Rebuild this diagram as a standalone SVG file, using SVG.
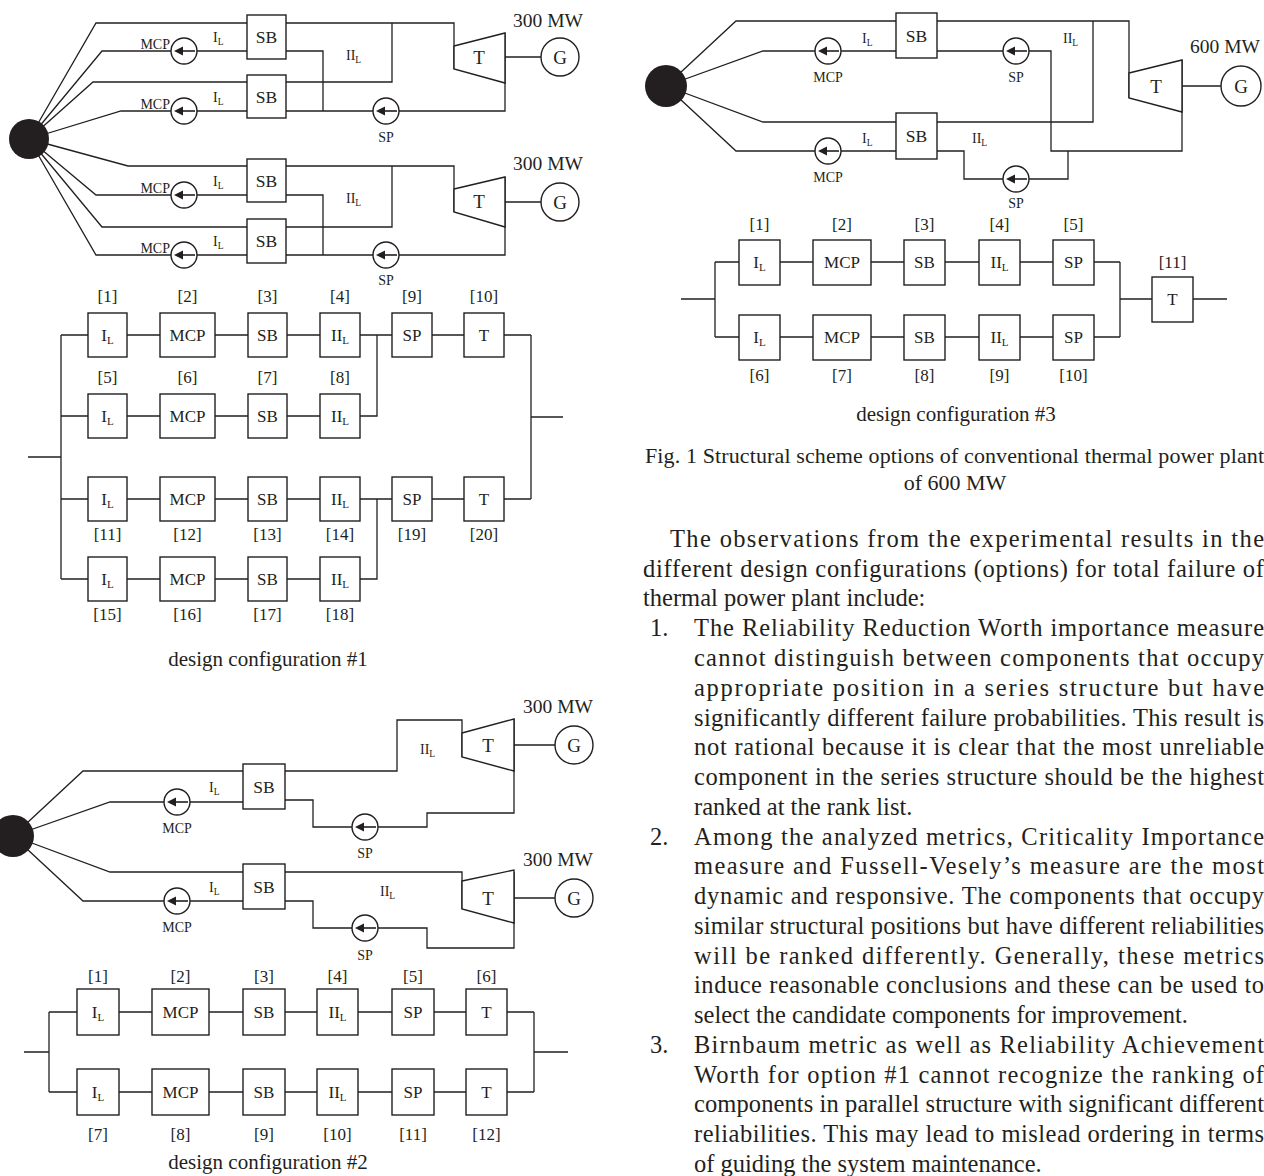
<svg xmlns="http://www.w3.org/2000/svg" width="1264" height="1176" viewBox="0 0 1264 1176">
<defs>
<style>
.ln{fill:none;stroke:#231f20;stroke-width:1.3}
.bx{fill:#fff;stroke:#231f20;stroke-width:1.4}
.src{fill:#231f20}
text{font-family:"Liberation Serif","Times New Roman",serif;fill:#231f20}
.sb{font-size:17.5px;text-anchor:middle}
.tg{font-size:19px;text-anchor:middle}
.mw{font-size:19.5px}
.sm{font-size:14px}
.smc{font-size:14px;text-anchor:middle}
.sme{font-size:14px;text-anchor:end}
.bt{font-size:17px;text-anchor:middle}
.dc{font-size:21px;text-anchor:middle}
.cap{font-size:22px}
.body{font-size:24.5px}
</style>
<g id="pump">
<circle r="13" fill="#fff" stroke="#231f20" stroke-width="1.4"/>
<path d="M-10,0 L-1,-4.5 L-1,4.5 Z" fill="#231f20"/>
<line x1="-2" y1="0" x2="11" y2="0" stroke="#231f20" stroke-width="1.6"/>
</g>
</defs>
<rect width="1264" height="1176" fill="#fff"/>

<g id="connectors">
<path class="ln" d="M29,139 L96,23 H247 M29,139 L102,51 H247 M29,139 L93,82 H247 M29,139 L121,111 H247 M29,139 L128,166 H247 M29,139 L96,195 H247 M29,139 L102,227 H247 M29,139 L96,255 H247"/>
<path class="ln" d="M286,23 H454 V69 M286,82 H392 V23 M286,51 H323 V111 M286,111 H505 V33 M505,57 H541"/>
<path class="ln" d="M286,166 H454 V212 M286,227 H392 V166 M286,195 H323 V255 M286,255 H505 V177 M505,202 H541"/>
<path class="ln" d="M28,457 H61 M61,335 V579 M531,335 V499 M531,417 H563"/>
<path class="ln" d="M61,335 H88 M127,335 H160 M215,335 H248 M287,335 H320 M360,335 H392 M432,335 H464 M504,335 H531"/>
<path class="ln" d="M61,416 H88 M127,416 H160 M215,416 H248 M287,416 H320 M360,416 H377 V335"/>
<path class="ln" d="M61,499 H88 M127,499 H160 M215,499 H248 M287,499 H320 M360,499 H392 M432,499 H464 M504,499 H531"/>
<path class="ln" d="M61,579 H88 M127,579 H160 M215,579 H248 M287,579 H320 M360,579 H377 V499"/>
<path class="ln" d="M13,836 L83,771 H243 M13,836 L110,802 H243 M13,836 L110,872 H243 M13,836 L83,901 H243"/>
<path class="ln" d="M285,771 H397 V720 H462 V757 M514,719 V813 H427 V827 H313 V800 H285 M514,745 H555"/>
<path class="ln" d="M285,872 H462 V909 M514,872 V948 H427 V928 H313 V901 H285 M514,898 H555"/>
<path class="ln" d="M24,1052 H49 M49,1012 V1092 M534,1012 V1092 M534,1052 H568"/>
<path class="ln" d="M49,1012 H77 M119,1012 H152 M209,1012 H243 M285,1012 H317 M358,1012 H392 M434,1012 H466 M507,1012 H534"/>
<path class="ln" d="M49,1092 H77 M119,1092 H152 M209,1092 H243 M285,1092 H317 M358,1092 H392 M434,1092 H466 M507,1092 H534"/>
<path class="ln" d="M666,86 L736,21 H896 M666,86 L763,51 H896 M666,86 L763,122 H896 M666,86 L736,151 H896"/>
<path class="ln" d="M937,21 H1129 V98 M937,122 H1093 V21 M937,51 H1051 V151 H1182 V60 M937,151 H964 V179 H1068 V151 M1182,86 H1221"/>
<path class="ln" d="M681,299 H715 M715,262 V337 M1120,262 V337 M1120,299 H1152 M1193,299 H1227"/>
<path class="ln" d="M715,262 H739 M780,262 H813 M871,262 H904 M945,262 H979 M1020,262 H1053 M1094,262 H1120"/>
<path class="ln" d="M715,337 H739 M780,337 H813 M871,337 H904 M945,337 H979 M1020,337 H1053 M1094,337 H1120"/>
</g>

<g id="c1-header"><circle class="src" cx="29" cy="139" r="20"/></g>
<g id="c1-mcp1"><use href="#pump" x="184" y="51"/><text class="sme" x="170" y="49">MCP</text></g>
<g id="c1-mcp2"><use href="#pump" x="184" y="111"/><text class="sme" x="170" y="109">MCP</text></g>
<g id="c1-mcp3"><use href="#pump" x="184" y="195"/><text class="sme" x="170" y="193">MCP</text></g>
<g id="c1-mcp4"><use href="#pump" x="184" y="255"/><text class="sme" x="170" y="253">MCP</text></g>
<g id="c1-il1"><text class="sm" x="213" y="42">I<tspan font-size="9.5" dy="3">L</tspan></text></g>
<g id="c1-il2"><text class="sm" x="213" y="102">I<tspan font-size="9.5" dy="3">L</tspan></text></g>
<g id="c1-il3"><text class="sm" x="213" y="186">I<tspan font-size="9.5" dy="3">L</tspan></text></g>
<g id="c1-il4"><text class="sm" x="213" y="246">I<tspan font-size="9.5" dy="3">L</tspan></text></g>
<g id="c1-sb1"><rect class="bx" x="247" y="15" width="39" height="44"/><text class="sb" x="266.5" y="43">SB</text></g>
<g id="c1-sb2"><rect class="bx" x="247" y="75" width="39" height="43"/><text class="sb" x="266.5" y="103">SB</text></g>
<g id="c1-sb3"><rect class="bx" x="247" y="159" width="39" height="43"/><text class="sb" x="266.5" y="187">SB</text></g>
<g id="c1-sb4"><rect class="bx" x="247" y="219" width="39" height="44"/><text class="sb" x="266.5" y="247">SB</text></g>
<g id="c1-iil1"><text class="sm" x="346" y="60">II<tspan font-size="9.5" dy="3">L</tspan></text></g>
<g id="c1-iil2"><text class="sm" x="346" y="203">II<tspan font-size="9.5" dy="3">L</tspan></text></g>
<g id="c1-sp1"><use href="#pump" x="386" y="111"/><text class="smc" x="386" y="142">SP</text></g>
<g id="c1-sp2"><use href="#pump" x="386" y="255"/><text class="smc" x="386" y="285">SP</text></g>
<g id="c1-t1"><polygon class="bx" points="454,46 505,33 505,83 454,69"/><text class="tg" x="479" y="64">T</text></g>
<g id="c1-t2"><polygon class="bx" points="454,189 505,177 505,227 454,212"/><text class="tg" x="479" y="208">T</text></g>
<g id="c1-g1"><circle class="bx" cx="560" cy="57" r="19"/><text class="tg" x="560" y="64">G</text><text class="mw" x="513" y="27">300 MW</text></g>
<g id="c1-g2"><circle class="bx" cx="560" cy="202" r="19"/><text class="tg" x="560" y="209">G</text><text class="mw" x="513" y="170">300 MW</text></g>

<g id="b1-1"><rect class="bx" x="88" y="313" width="39" height="44"/><text class="bt" x="107.5" y="341">I<tspan font-size="11" dy="3">L</tspan></text><text class="bt" x="107.5" y="302">[1]</text></g>
<g id="b1-2"><rect class="bx" x="160" y="313" width="55" height="44"/><text class="bt" x="187.5" y="341">MCP</text><text class="bt" x="187.5" y="302">[2]</text></g>
<g id="b1-3"><rect class="bx" x="248" y="313" width="39" height="44"/><text class="bt" x="267.5" y="341">SB</text><text class="bt" x="267.5" y="302">[3]</text></g>
<g id="b1-4"><rect class="bx" x="320" y="313" width="40" height="44"/><text class="bt" x="340" y="341">II<tspan font-size="11" dy="3">L</tspan></text><text class="bt" x="340" y="302">[4]</text></g>
<g id="b1-9"><rect class="bx" x="392" y="313" width="40" height="44"/><text class="bt" x="412" y="341">SP</text><text class="bt" x="412" y="302">[9]</text></g>
<g id="b1-10"><rect class="bx" x="464" y="313" width="40" height="44"/><text class="bt" x="484" y="341">T</text><text class="bt" x="484" y="302">[10]</text></g>
<g id="b1-5"><rect class="bx" x="88" y="394" width="39" height="44"/><text class="bt" x="107.5" y="422">I<tspan font-size="11" dy="3">L</tspan></text><text class="bt" x="107.5" y="383">[5]</text></g>
<g id="b1-6"><rect class="bx" x="160" y="394" width="55" height="44"/><text class="bt" x="187.5" y="422">MCP</text><text class="bt" x="187.5" y="383">[6]</text></g>
<g id="b1-7"><rect class="bx" x="248" y="394" width="39" height="44"/><text class="bt" x="267.5" y="422">SB</text><text class="bt" x="267.5" y="383">[7]</text></g>
<g id="b1-8"><rect class="bx" x="320" y="394" width="40" height="44"/><text class="bt" x="340" y="422">II<tspan font-size="11" dy="3">L</tspan></text><text class="bt" x="340" y="383">[8]</text></g>
<g id="b1-11"><rect class="bx" x="88" y="477" width="39" height="44"/><text class="bt" x="107.5" y="505">I<tspan font-size="11" dy="3">L</tspan></text><text class="bt" x="107.5" y="540">[11]</text></g>
<g id="b1-12"><rect class="bx" x="160" y="477" width="55" height="44"/><text class="bt" x="187.5" y="505">MCP</text><text class="bt" x="187.5" y="540">[12]</text></g>
<g id="b1-13"><rect class="bx" x="248" y="477" width="39" height="44"/><text class="bt" x="267.5" y="505">SB</text><text class="bt" x="267.5" y="540">[13]</text></g>
<g id="b1-14"><rect class="bx" x="320" y="477" width="40" height="44"/><text class="bt" x="340" y="505">II<tspan font-size="11" dy="3">L</tspan></text><text class="bt" x="340" y="540">[14]</text></g>
<g id="b1-19"><rect class="bx" x="392" y="477" width="40" height="44"/><text class="bt" x="412" y="505">SP</text><text class="bt" x="412" y="540">[19]</text></g>
<g id="b1-20"><rect class="bx" x="464" y="477" width="40" height="44"/><text class="bt" x="484" y="505">T</text><text class="bt" x="484" y="540">[20]</text></g>
<g id="b1-15"><rect class="bx" x="88" y="557" width="39" height="44"/><text class="bt" x="107.5" y="585">I<tspan font-size="11" dy="3">L</tspan></text><text class="bt" x="107.5" y="620">[15]</text></g>
<g id="b1-16"><rect class="bx" x="160" y="557" width="55" height="44"/><text class="bt" x="187.5" y="585">MCP</text><text class="bt" x="187.5" y="620">[16]</text></g>
<g id="b1-17"><rect class="bx" x="248" y="557" width="39" height="44"/><text class="bt" x="267.5" y="585">SB</text><text class="bt" x="267.5" y="620">[17]</text></g>
<g id="b1-18"><rect class="bx" x="320" y="557" width="40" height="44"/><text class="bt" x="340" y="585">II<tspan font-size="11" dy="3">L</tspan></text><text class="bt" x="340" y="620">[18]</text></g>
<text class="dc" x="268" y="666">design configuration #1</text>

<g id="c2-header"><circle class="src" cx="13" cy="836" r="21"/></g>
<g id="c2-mcp1"><use href="#pump" x="177" y="802"/><text class="smc" x="177" y="833">MCP</text></g>
<g id="c2-mcp2"><use href="#pump" x="177" y="901"/><text class="smc" x="177" y="932">MCP</text></g>
<g id="c2-il1"><text class="sm" x="209" y="792">I<tspan font-size="9.5" dy="3">L</tspan></text></g>
<g id="c2-il2"><text class="sm" x="209" y="892">I<tspan font-size="9.5" dy="3">L</tspan></text></g>
<g id="c2-sb1"><rect class="bx" x="243" y="764" width="42" height="45"/><text class="sb" x="264" y="793">SB</text></g>
<g id="c2-sb2"><rect class="bx" x="243" y="864" width="42" height="45"/><text class="sb" x="264" y="893">SB</text></g>
<g id="c2-iil1"><text class="sm" x="420" y="754">II<tspan font-size="9.5" dy="3">L</tspan></text></g>
<g id="c2-iil2"><text class="sm" x="380" y="896">II<tspan font-size="9.5" dy="3">L</tspan></text></g>
<g id="c2-sp1"><use href="#pump" x="365" y="827"/><text class="smc" x="365" y="858">SP</text></g>
<g id="c2-sp2"><use href="#pump" x="365" y="928"/><text class="smc" x="365" y="960">SP</text></g>
<g id="c2-t1"><polygon class="bx" points="462,733 514,719 514,771 462,757"/><text class="tg" x="488" y="752">T</text></g>
<g id="c2-t2"><polygon class="bx" points="462,881 514,870 514,923 462,909"/><text class="tg" x="488" y="905">T</text></g>
<g id="c2-g1"><circle class="bx" cx="574" cy="745" r="19"/><text class="tg" x="574" y="752">G</text><text class="mw" x="523" y="713">300 MW</text></g>
<g id="c2-g2"><circle class="bx" cx="574" cy="898" r="19"/><text class="tg" x="574" y="905">G</text><text class="mw" x="523" y="866">300 MW</text></g>

<g id="b2-1"><rect class="bx" x="77" y="989" width="42" height="46"/><text class="bt" x="98" y="1018">I<tspan font-size="11" dy="3">L</tspan></text><text class="bt" x="98" y="982">[1]</text></g>
<g id="b2-2"><rect class="bx" x="152" y="989" width="57" height="46"/><text class="bt" x="180.5" y="1018">MCP</text><text class="bt" x="180.5" y="982">[2]</text></g>
<g id="b2-3"><rect class="bx" x="243" y="989" width="42" height="46"/><text class="bt" x="264" y="1018">SB</text><text class="bt" x="264" y="982">[3]</text></g>
<g id="b2-4"><rect class="bx" x="317" y="989" width="41" height="46"/><text class="bt" x="337.5" y="1018">II<tspan font-size="11" dy="3">L</tspan></text><text class="bt" x="337.5" y="982">[4]</text></g>
<g id="b2-5"><rect class="bx" x="392" y="989" width="42" height="46"/><text class="bt" x="413" y="1018">SP</text><text class="bt" x="413" y="982">[5]</text></g>
<g id="b2-6"><rect class="bx" x="466" y="989" width="41" height="46"/><text class="bt" x="486.5" y="1018">T</text><text class="bt" x="486.5" y="982">[6]</text></g>
<g id="b2-7"><rect class="bx" x="77" y="1069" width="42" height="46"/><text class="bt" x="98" y="1098">I<tspan font-size="11" dy="3">L</tspan></text><text class="bt" x="98" y="1140">[7]</text></g>
<g id="b2-8"><rect class="bx" x="152" y="1069" width="57" height="46"/><text class="bt" x="180.5" y="1098">MCP</text><text class="bt" x="180.5" y="1140">[8]</text></g>
<g id="b2-9"><rect class="bx" x="243" y="1069" width="42" height="46"/><text class="bt" x="264" y="1098">SB</text><text class="bt" x="264" y="1140">[9]</text></g>
<g id="b2-10"><rect class="bx" x="317" y="1069" width="41" height="46"/><text class="bt" x="337.5" y="1098">II<tspan font-size="11" dy="3">L</tspan></text><text class="bt" x="337.5" y="1140">[10]</text></g>
<g id="b2-11"><rect class="bx" x="392" y="1069" width="42" height="46"/><text class="bt" x="413" y="1098">SP</text><text class="bt" x="413" y="1140">[11]</text></g>
<g id="b2-12"><rect class="bx" x="466" y="1069" width="41" height="46"/><text class="bt" x="486.5" y="1098">T</text><text class="bt" x="486.5" y="1140">[12]</text></g>
<text class="dc" x="268" y="1169">design configuration #2</text>

<g id="c3-header"><circle class="src" cx="666" cy="86" r="21"/></g>
<g id="c3-mcp1"><use href="#pump" x="828" y="51"/><text class="smc" x="828" y="82">MCP</text></g>
<g id="c3-mcp2"><use href="#pump" x="828" y="151"/><text class="smc" x="828" y="182">MCP</text></g>
<g id="c3-il1"><text class="sm" x="862" y="43">I<tspan font-size="9.5" dy="3">L</tspan></text></g>
<g id="c3-il2"><text class="sm" x="862" y="143">I<tspan font-size="9.5" dy="3">L</tspan></text></g>
<g id="c3-sb1"><rect class="bx" x="896" y="13" width="41" height="45"/><text class="sb" x="916.5" y="42">SB</text></g>
<g id="c3-sb2"><rect class="bx" x="896" y="113" width="41" height="46"/><text class="sb" x="916.5" y="142">SB</text></g>
<g id="c3-iil1"><text class="sm" x="1063" y="43">II<tspan font-size="9.5" dy="3">L</tspan></text></g>
<g id="c3-iil2"><text class="sm" x="972" y="143">II<tspan font-size="9.5" dy="3">L</tspan></text></g>
<g id="c3-sp1"><use href="#pump" x="1016" y="51"/><text class="smc" x="1016" y="82">SP</text></g>
<g id="c3-sp2"><use href="#pump" x="1016" y="179"/><text class="smc" x="1016" y="208">SP</text></g>
<g id="c3-t"><polygon class="bx" points="1129,73 1182,60 1182,112 1129,98"/><text class="tg" x="1156" y="93">T</text></g>
<g id="c3-g"><circle class="bx" cx="1241" cy="86" r="20"/><text class="tg" x="1241" y="93">G</text><text class="mw" x="1190" y="53">600 MW</text></g>

<g id="b3-1"><rect class="bx" x="739" y="240" width="41" height="45"/><text class="bt" x="759.5" y="268">I<tspan font-size="11" dy="3">L</tspan></text><text class="bt" x="759.5" y="230">[1]</text></g>
<g id="b3-2"><rect class="bx" x="813" y="240" width="58" height="45"/><text class="bt" x="842" y="268">MCP</text><text class="bt" x="842" y="230">[2]</text></g>
<g id="b3-3"><rect class="bx" x="904" y="240" width="41" height="45"/><text class="bt" x="924.5" y="268">SB</text><text class="bt" x="924.5" y="230">[3]</text></g>
<g id="b3-4"><rect class="bx" x="979" y="240" width="41" height="45"/><text class="bt" x="999.5" y="268">II<tspan font-size="11" dy="3">L</tspan></text><text class="bt" x="999.5" y="230">[4]</text></g>
<g id="b3-5"><rect class="bx" x="1053" y="240" width="41" height="45"/><text class="bt" x="1073.5" y="268">SP</text><text class="bt" x="1073.5" y="230">[5]</text></g>
<g id="b3-6"><rect class="bx" x="739" y="315" width="41" height="45"/><text class="bt" x="759.5" y="343">I<tspan font-size="11" dy="3">L</tspan></text><text class="bt" x="759.5" y="381">[6]</text></g>
<g id="b3-7"><rect class="bx" x="813" y="315" width="58" height="45"/><text class="bt" x="842" y="343">MCP</text><text class="bt" x="842" y="381">[7]</text></g>
<g id="b3-8"><rect class="bx" x="904" y="315" width="41" height="45"/><text class="bt" x="924.5" y="343">SB</text><text class="bt" x="924.5" y="381">[8]</text></g>
<g id="b3-9"><rect class="bx" x="979" y="315" width="41" height="45"/><text class="bt" x="999.5" y="343">II<tspan font-size="11" dy="3">L</tspan></text><text class="bt" x="999.5" y="381">[9]</text></g>
<g id="b3-10"><rect class="bx" x="1053" y="315" width="41" height="45"/><text class="bt" x="1073.5" y="343">SP</text><text class="bt" x="1073.5" y="381">[10]</text></g>
<g id="b3-11"><rect class="bx" x="1152" y="277" width="41" height="45"/><text class="bt" x="1172.5" y="305">T</text><text class="bt" x="1172.5" y="268">[11]</text></g>
<text class="dc" x="956" y="421">design configuration #3</text>

<g id="caption">
<text class="cap" x="645" y="463" textLength="619" lengthAdjust="spacing">Fig. 1 Structural scheme options of conventional thermal power plant</text>
<text class="cap" x="955" y="490" text-anchor="middle">of 600 MW</text>
</g>
<g id="body">
<text class="body" x="670" y="547" textLength="594" lengthAdjust="spacing">The observations from the experimental results in the</text>
<text class="body" x="643" y="577" textLength="621" lengthAdjust="spacing">different design configurations (options) for total failure of</text>
<text class="body" x="643" y="606">thermal power plant include:</text>
<text class="body" x="650" y="636">1.</text>
<text class="body" x="694" y="636" textLength="570" lengthAdjust="spacing">The Reliability Reduction Worth importance measure</text>
<text class="body" x="694" y="666" textLength="570" lengthAdjust="spacing">cannot distinguish between components that occupy</text>
<text class="body" x="694" y="696" textLength="570" lengthAdjust="spacing">appropriate position in a series structure but have</text>
<text class="body" x="694" y="726" textLength="570" lengthAdjust="spacing">significantly different failure probabilities. This result is</text>
<text class="body" x="694" y="755" textLength="570" lengthAdjust="spacing">not rational because it is clear that the most unreliable</text>
<text class="body" x="694" y="785" textLength="570" lengthAdjust="spacing">component in the series structure should be the highest</text>
<text class="body" x="694" y="815">ranked at the rank list.</text>
<text class="body" x="650" y="845">2.</text>
<text class="body" x="694" y="845" textLength="570" lengthAdjust="spacing">Among the analyzed metrics, Criticality Importance</text>
<text class="body" x="694" y="874" textLength="570" lengthAdjust="spacing">measure and Fussell-Vesely’s measure are the most</text>
<text class="body" x="694" y="904" textLength="570" lengthAdjust="spacing">dynamic and responsive. The components that occupy</text>
<text class="body" x="694" y="934" textLength="570" lengthAdjust="spacing">similar structural positions but have different reliabilities</text>
<text class="body" x="694" y="964" textLength="570" lengthAdjust="spacing">will be ranked differently. Generally, these metrics</text>
<text class="body" x="694" y="993" textLength="570" lengthAdjust="spacing">induce reasonable conclusions and these can be used to</text>
<text class="body" x="694" y="1023">select the candidate components for improvement.</text>
<text class="body" x="650" y="1053">3.</text>
<text class="body" x="694" y="1053" textLength="570" lengthAdjust="spacing">Birnbaum metric as well as Reliability Achievement</text>
<text class="body" x="694" y="1083" textLength="570" lengthAdjust="spacing">Worth for option #1 cannot recognize the ranking of</text>
<text class="body" x="694" y="1112" textLength="570" lengthAdjust="spacing">components in parallel structure with significant different</text>
<text class="body" x="694" y="1142" textLength="570" lengthAdjust="spacing">reliabilities. This may lead to mislead ordering in terms</text>
<text class="body" x="694" y="1172">of guiding the system maintenance.</text>
</g>
</svg>
